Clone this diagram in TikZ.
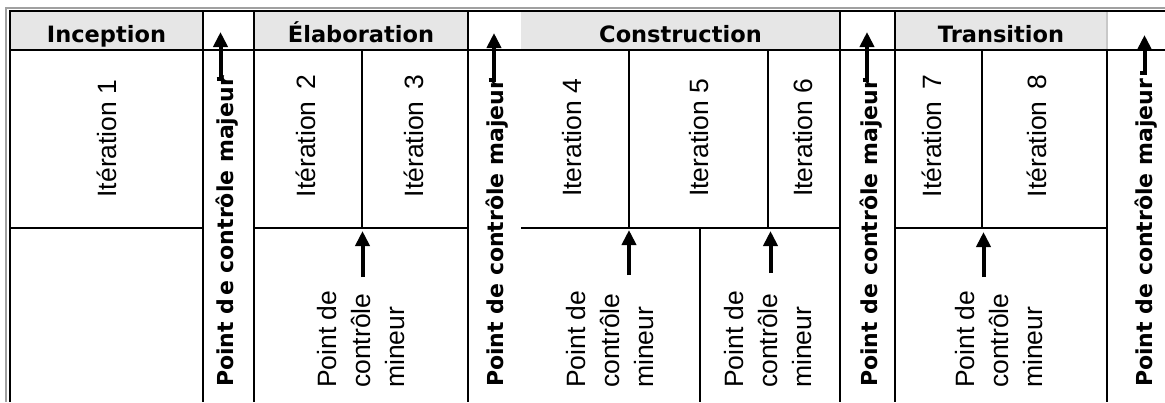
\documentclass[tikz,border=0pt]{standalone}
\usepackage{fontspec}
\setmainfont{Liberation Sans}
\newfontfamily\dvs{DejaVu Sans}
\usetikzlibrary{arrows.meta}
\definecolor{hdrgray}{RGB}{230,230,230}
\definecolor{framegray}{RGB}{160,160,160}
\definecolor{sepgray}{RGB}{200,200,200}
\newcommand\hdrfont{\dvs\bfseries\fontsize{22.5}{26}\selectfont}
\newcommand\majfont{\dvs\bfseries\fontsize{22}{26}\selectfont}
\newcommand\iterfont{\fontsize{26.5}{34}\selectfont}
\begin{document}
\begin{tikzpicture}[x=1pt,y=-1pt,
  grid/.style={line width=2pt},
  hdr/.style={font=\hdrfont, anchor=base, inner sep=0pt, text=black},
  iter/.style={font=\iterfont, rotate=90, inner sep=0pt, text=black},
  minor/.style={font=\iterfont, rotate=90, align=left, anchor=west, inner sep=0pt, text=black},
  major/.style={font=\majfont, rotate=90, anchor=base west, inner sep=0pt},
  arr/.style={line width=4pt, line join=miter, -{Triangle[length=15pt,width=14pt]}}
]
\useasboundingbox (0,0) rectangle (1165,402);
% header fills
\fill[hdrgray] (11,12) rectangle (203,49);
\fill[hdrgray] (254,12) rectangle (468,49);
\fill[hdrgray] (521,12) rectangle (840,49);
\fill[hdrgray] (895,12) rectangle (1106,49);
% outer frame
\draw[line width=2pt, framegray] (6,402) -- (6,8) -- (1165,8);
\draw[grid] (10.2,402) -- (10.2,11) -- (1165,11);
% header bottom line
\draw[grid] (10,49.5) -- (1165,49.5);
% full-height verticals
\draw[grid] (203,11) -- (203,402);
\draw[grid] (254.3,11) -- (254.3,402);
\draw[grid] (468.3,11) -- (468.3,402);
\draw[grid] (840.3,11) -- (840.3,402);
\draw[grid] (895.3,11) -- (895.3,402);
\draw[line width=2pt, sepgray] (1106.5,12) -- (1106.5,48.5);
\draw[grid] (1106.5,49.5) -- (1106.5,402);
% middle horizontals
\draw[grid] (10,228) -- (203,228);
\draw[grid] (254.3,228) -- (468.3,228);
\draw[grid] (521,228) -- (840.3,228);
\draw[grid] (895.3,228) -- (1106.5,228);
% iteration dividers
\draw[grid] (362,49.5) -- (362,228);
\draw[grid] (628.8,49.5) -- (628.8,228);
\draw[grid] (768.3,49.5) -- (768.3,228);
\draw[grid] (981.7,49.5) -- (981.7,228);
% lower divider
\draw[grid] (700,228) -- (700,402);

% headers
\node[hdr] (hInc) at (106.5,42) {Inception};
\node[hdr] (hElab) at (361,42) {Élaboration};
\node[hdr] (hCons) at (680.5,42) {Construction};
\node[hdr] (hTrans) at (1001,42) {Transition};

% iterations
\node[iter] (it1) at (107,138.5) {Itération 1};
\node[iter] (it2) at (306,136) {Itération\hspace{0.45em}2};
\node[iter] (it3) at (414,136) {Itération\hspace{0.45em}3};
\node[iter] (it4) at (572,138) {Iteration 4};
\node[iter] (it5) at (699,138) {Iteration 5};
\node[iter] (it6) at (803,138) {Iteration 6};
\node[iter] (it7) at (932,136) {Itération\hspace{0.45em}7};
\node[iter] (it8) at (1037,136) {Itération\hspace{0.45em}8};

% minor control points
\node[minor] (mn1) at (361.5,388) {Point de\\contrôle\\mineur};
\node[minor] (mn2) at (610,388) {Point de\\contrôle\\mineur};
\node[minor] (mn3) at (768,388) {Point de\\contrôle\\mineur};
\node[minor] (mn4) at (999,388) {Point de\\contrôle\\mineur};

\coordinate (a1s) at (362.5,277);
\coordinate (a1e) at (362.5,231);
\coordinate (a2s) at (629,275);
\coordinate (a2e) at (629,230);
\coordinate (a3s) at (770.5,273);
\coordinate (a3e) at (770.5,231);
\coordinate (a4s) at (983.5,277);
\coordinate (a4e) at (983.5,232);
\draw[arr] (a1s) -- (a1e);
\draw[arr] (a2s) -- (a2e);
\draw[arr] (a3s) -- (a3e);
\draw[arr] (a4s) -- (a4e);

% major control points
\node[major] (mj1) at (233,387) {Point d\kern0.12em e contrôle majeur};
\node[major] (mj2) at (503,387) {Point de contrôle majeur};
\node[major] (mj3) at (877,387) {Point de contrôle majeur};
\node[major] (mj4) at (1152,387) {Point de contrôle majeur};

\coordinate (M1s) at (216.5,78.5);
\coordinate (M1e) at (220.5,32);
\coordinate (M2s) at (488.5,80);
\coordinate (M2e) at (494,33);
\coordinate (M3s) at (862.5,80);
\coordinate (M3e) at (867,32);
\coordinate (M4s) at (1140,73);
\coordinate (M4e) at (1144.5,35);
\draw[arr] (M1s) -| (M1e);
\draw[arr] (M2s) -| (M2e);
\draw[arr] (M3s) -| (M3e);
\draw[arr] (M4s) -| (M4e);
\end{tikzpicture}
\end{document}
